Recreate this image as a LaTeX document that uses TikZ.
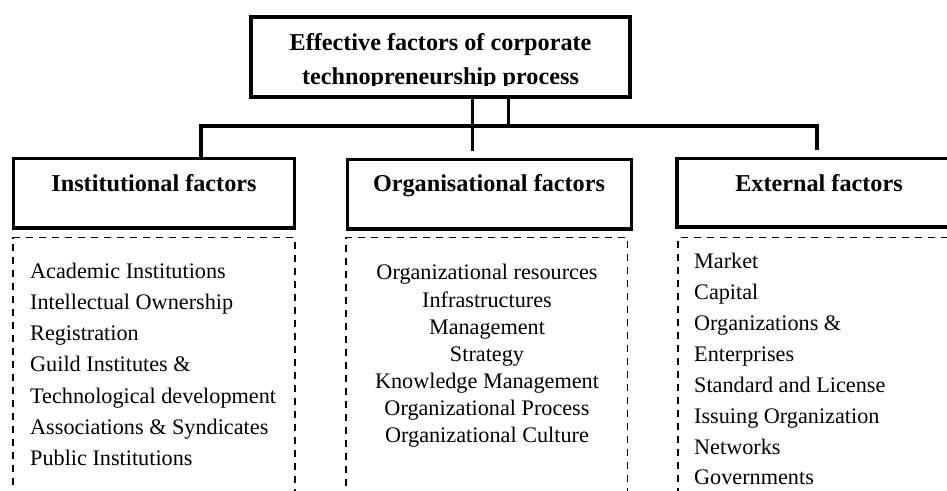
\documentclass[tikz,border=0pt]{standalone}
\usepackage{fontspec}
\setmainfont{Liberation Serif}
\begin{document}
\begin{tikzpicture}[x=1bp,y=-1bp,
  solidbox/.style={draw, rectangle, line width=3.5bp, inner sep=0pt},
  dashbox/.style={draw, rectangle, line width=1.6bp, dash pattern=on 7bp off 6bp, inner sep=0pt},
  conn/.style={line width=3.5bp},
  headtext/.style={font=\fontsize{24.3}{33}\selectfont\bfseries, inner sep=0pt, anchor=base},
  bodytext/.style={font=\fontsize{22.3}{27}\selectfont, inner sep=0pt}]
  \clip (0,0) rectangle (947,491);
  \fill[white] (0,0) rectangle (947,491);

  % main box
  \node[solidbox, minimum width=379bp, minimum height=80bp] (top) at (440.5,57) {};
  \begin{scope}
    \clip (255,20) rectangle (626,86);
    \node[headtext] (title1) at (440.5,50.7) {Effective factors of corporate};
    \node[headtext] (title2) at (440.5,84.3) {technopreneurship process};
  \end{scope}

  % category boxes
  \node[solidbox, minimum width=281.4bp, minimum height=69.3bp] (inst) at (154,193.35) {};
  \node[solidbox, minimum width=283.8bp, minimum height=69.3bp] (org) at (489.4,194.35) {};
  \node[solidbox, minimum width=284bp, minimum height=68.3bp] (ext) at (819,192.85) {};
  \node[headtext] (instT) at (154,191.5) {Institutional factors};
  \node[headtext] (orgT) at (489,191.5) {Organisational factors};
  \node[headtext] (extT) at (819,191.5) {External factors};

  % dashed lists
  \node[dashbox, minimum width=281.7bp, minimum height=262.3bp] (instL) at (154.15,368.85) {};
  \node[dashbox, minimum width=281.3bp, minimum height=262.3bp] (orgL) at (486.65,368.85) {};
  \node[dashbox, minimum width=283.3bp, minimum height=262.3bp] (extL) at (819.35,368.85) {};

  \foreach \t [count=\i] in {Academic Institutions, Intellectual Ownership, Registration,
      Guild Institutes \&, Technological development, Associations \& Syndicates, Public Institutions}
    \node[bodytext, anchor=base west] (inst-\i) at (30,{278.3+(\i-1)*31.2}) {\t};

  \foreach \t [count=\i] in {Organizational resources, Infrastructures, Management, Strategy,
      Knowledge Management, Organizational Process, Organizational Culture}
    \node[bodytext, anchor=base] (org-\i) at (487,{280+(\i-1)*27.1}) {\t};

  \foreach \t [count=\i] in {Market, Capital, Organizations \&, Enterprises,
      Standard and License, Issuing Organization, Networks, Governments}
    \node[bodytext, anchor=base west] (ext-\i) at (694,{268.3+(\i-1)*30.95}) {\t};

  % connectors
  \coordinate (busL) at (201,126);
  \coordinate (busR) at (817,126);
  \coordinate (j1) at (472.5,126);
  \coordinate (j2) at (508.7,126);
  \coordinate (orgTop) at ([yshift=7bp]org.north);
  \coordinate (extTop) at ([yshift=6.5bp]ext.north);
  \draw[conn] (top.south -| j1) -- (orgTop -| j1);
  \draw[conn] (top.south -| j2) -- (j2);
  \draw[conn] (inst.north -| busL) -- (busL) -- (busR) -- (extTop -| busR);
\end{tikzpicture}
\end{document}
